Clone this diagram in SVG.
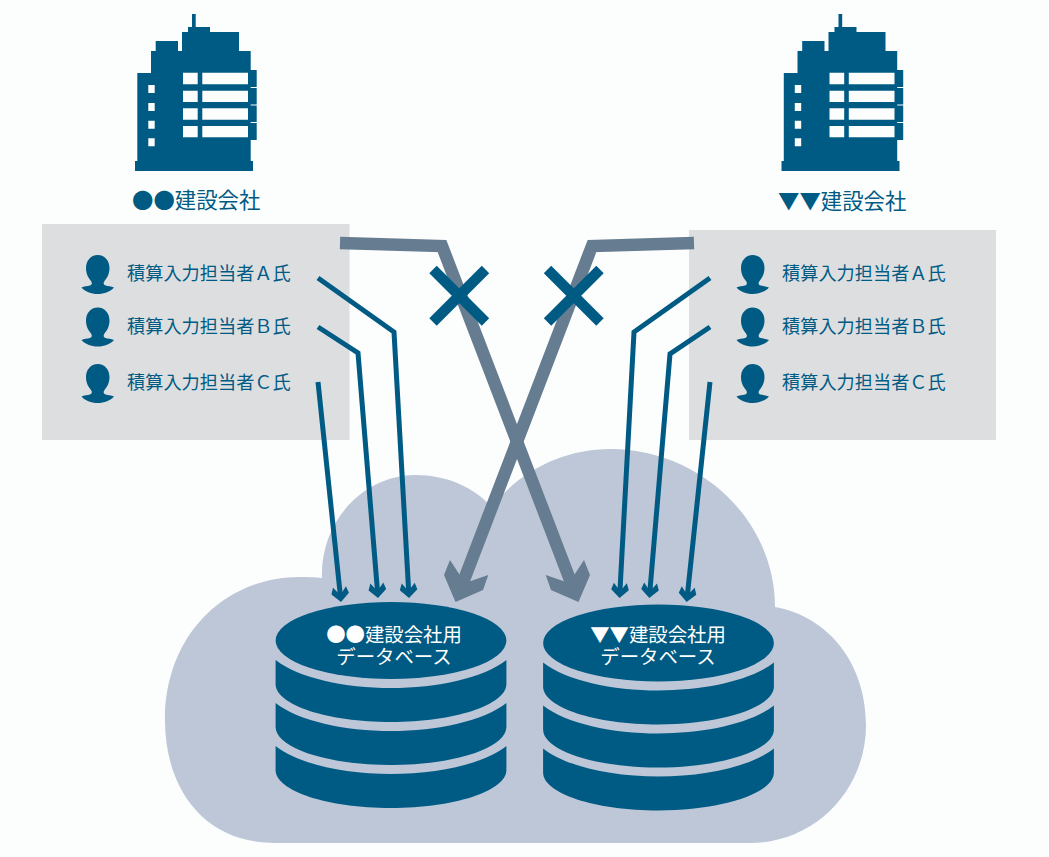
<svg xmlns="http://www.w3.org/2000/svg" width="1049" height="857" viewBox="0 0 1049 857">
<style>
text{font-family:"Noto Sans CJK JP","Liberation Sans",sans-serif;fill:#005b84}
.p{font-size:18.200px}.c{font-size:21.400px}
.d{font-size:19.400px;fill:#fff;text-anchor:middle}
.b{fill:#005b84}.w{fill:#fcfdfd}
.l{fill:none;stroke:#005b84;stroke-width:5;marker-end:url(#ah)}
.g{fill:none;stroke:#667c90;stroke-width:12.500}
.gh{fill:#667c90}
.x{fill:none;stroke:#005b84;stroke-width:10.500}
</style>
<defs>
<marker id="ah" markerUnits="userSpaceOnUse" markerWidth="22" markerHeight="22" refX="10" refY="11" orient="auto" viewBox="0 0 22 22">
<path d="M18 11L9.700 2.200L3 4.500L8 8.500L8 13.500L3 17.500L9.700 19.800Z" fill="#005b84"/>
</marker>
<g id="bld">
<path class="b" d="M137.300 73H151V51H155.700V41H178V51H182V32H188V27H192V14H195.700V27H210V32H239V51H250.700V70H256.700V87H250.700V88H256.700V104.500H250.700V105.500H256.700V122H250.700V123H256.700V140H250.700V161H253V171H135V161H137.300Z"/>
<path class="w" d="M183 72.700h14.700v11.600h-14.700zM202.300 72.700H248v11.600h-45.700zM183 90.700h14.700V102h-14.700zM202.300 90.700H248V102h-45.700zM183 108.300h14.700v11.400h-14.700zM202.300 108.300H248v11.400h-45.700zM183 126h14.700v11.300h-14.700zM202.300 126H248v11.300h-45.700zM148.300 85h6.400v8h-6.400zM148.300 103h6.400v8h-6.400zM148.300 120.700h6.400v8h-6.400zM148.300 138.300h6.400v8h-6.400z"/>
</g>
<path id="psn" class="b" d="M97.700 255C90.500 255 86 261 86 268C86 274 88.500 278 91 281C92.500 283 92 285 90 285.500C87.500 286 84 286.500 81.500 287.500C85 291.500 91 294 97.700 294C104.400 294 110.500 291.500 114 287.500C111 286.500 108 286 105.500 285.500C103.500 285 103 283 104.500 281C107 278 109.500 274 109.500 268C109.500 261 105 255 97.700 255Z"/>
<g id="db">
<ellipse class="b" cx="391" cy="640.500" rx="115.400" ry="38.500"/>
<path id="bd" class="b" d="M275.600 660C298 678 345 688 391 688C437 688 484 678 506.400 660V684C506.400 705 454 722 391 722C328 722 275.600 705 275.600 684Z"/>
<use href="#bd" y="43"/>
<use href="#bd" y="86"/>
</g>
</defs>
<rect width="1049" height="857" fill="#fcfdfd"/>
<path id="cloud" fill="#bdc7d7" d="M275 843C205 843 165 790 165 720C165 635 225 577 300 577C308 577 315 577 322 578C320 520 365 475 415 475C447 475 473 487 492 507C520 470 565 449 610 449C700 449 775 520 775 607C830 617 866 665 866 725C866 790 815 843 750 843Z"/>
<rect id="panel-a" x="42" y="224" width="307.500" height="216" fill="#dddee0"/>
<rect id="panel-b" x="689" y="230" width="307" height="210" fill="#dddee0"/>
<g id="connectors">
<path class="g" d="M340 243L442 246L572 585"/>
<path class="g" d="M694 243L592 246L462 585"/>
<path class="gh" d="M578.500 602L551 590L545.700 575L569 583L584 560L590 575Z"/>
<path class="gh" d="M455.500 602L483 590L488.300 575L465 583L450 560L444 575Z"/>
<path class="l" d="M318 278L394 332L408.600 590"/>
<path class="l" d="M318 327L358 353L377.400 590"/>
<path class="l" d="M318 382L340.200 594"/>
<path class="l" d="M710 278L634 332L620 590"/>
<path class="l" d="M710 327L670 354L650 590"/>
<path class="l" d="M710 382L687.500 594"/>
<path class="x" d="M433 269.500L485.500 322M485.500 269.500L433 322"/>
<path class="x" d="M547.500 269.500L600 322M600 269.500L547.500 322"/>
</g>
<g id="company-a"><use href="#bld"/><text class="c" x="132" y="208">●●建設会社</text></g>
<g id="company-b"><use href="#bld" x="646.500"/><text class="c" x="778" y="209">▼▼建設会社</text></g>
<g id="user-a-a"><use href="#psn"/><text class="p" x="127" y="280">積算入力担当者Ａ氏</text></g>
<g id="user-a-b"><use href="#psn" y="52.500"/><text class="p" x="127" y="332.500">積算入力担当者Ｂ氏</text></g>
<g id="user-a-c"><use href="#psn" y="109"/><text class="p" x="127" y="389">積算入力担当者Ｃ氏</text></g>
<g id="user-b-a"><use href="#psn" x="655"/><text class="p" x="782" y="280">積算入力担当者Ａ氏</text></g>
<g id="user-b-b"><use href="#psn" x="655" y="52.500"/><text class="p" x="782" y="332.500">積算入力担当者Ｂ氏</text></g>
<g id="user-b-c"><use href="#psn" x="655" y="109"/><text class="p" x="782" y="389">積算入力担当者Ｃ氏</text></g>
<g id="db-a"><use href="#db"/><text class="d"><tspan x="394" y="642">●●建設会社用</tspan><tspan x="394" y="664">データベース</tspan></text></g>
<g id="db-b"><use href="#db" x="267.500" y="2.500"/><text class="d"><tspan x="658" y="642">▼▼建設会社用</tspan><tspan x="658" y="664">データベース</tspan></text></g>
</svg>
